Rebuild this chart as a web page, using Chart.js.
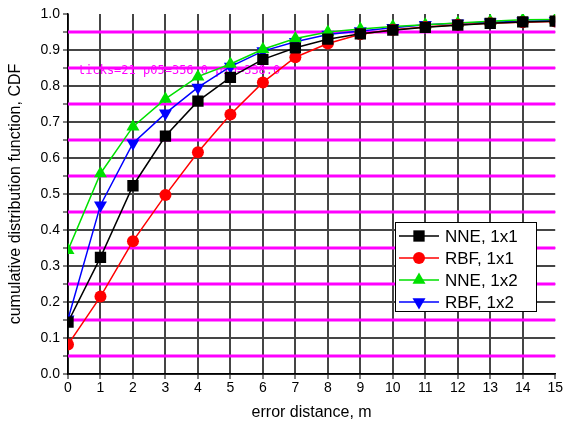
<!DOCTYPE html>
<html>
<head>
<meta charset="utf-8">
<script src="https://cdn.jsdelivr.net/npm/chart.js@4.4.0/dist/chart.umd.min.js"></script>
<style>
  html, body { margin: 0; padding: 0; background: #fff; }
  #wrap { width: 564px; height: 434px; }
</style>
</head>
<body>
<div id="wrap"><canvas id="cdf" width="564" height="434"></canvas></div>
<script>
// error distance in metres
const distances = [0, 1, 2, 3, 4, 5, 6, 7, 8, 9, 10, 11, 12, 13, 14, 15];

// CDF values
const nne1x1 = [0.144, 0.324, 0.523, 0.661, 0.758, 0.824, 0.874, 0.906, 0.930, 0.945, 0.955, 0.963, 0.969, 0.974, 0.978, 0.980];
const rbf1x1 = [0.082, 0.215, 0.369, 0.497, 0.616, 0.721, 0.810, 0.880, 0.918, 0.944, 0.956, 0.964, 0.970, 0.974, 0.977, 0.979];
const nne1x2 = [0.344, 0.557, 0.687, 0.764, 0.826, 0.861, 0.902, 0.932, 0.950, 0.958, 0.965, 0.970, 0.975, 0.980, 0.984, 0.985];
const rbf1x2 = [0.152, 0.469, 0.641, 0.724, 0.796, 0.854, 0.897, 0.923, 0.943, 0.953, 0.962, 0.970, 0.974, 0.977, 0.980, 0.981];

const seriesNames = ["NNE, 1x1", "RBF, 1x1", "NNE, 1x2", "RBF, 1x2"];
const xTicks = [0, 15, 1];      // min, max, step
const yTicks = [0, 1, 0.05];    // min, max, step (labels every 0.1)

const FONT = "'Liberation Sans', Arial, sans-serif";
const GRID = "#454545";

const toPoints = (vals) => vals.map((v, i) => ({ x: distances[i], y: v }));

const styles = [
  { color: "#000000", pointStyle: "rect", radius: 8, rotation: 0 },
  { color: "#ff0000", pointStyle: "circle", radius: 6, rotation: 0 },
  { color: "#00e000", pointStyle: "triangle", radius: 7.5, rotation: 0 },
  { color: "#0000ff", pointStyle: "triangle", radius: 7.5, rotation: 180 },
];
const allData = [nne1x1, rbf1x1, nne1x2, rbf1x2];

const datasets = allData.map((vals, i) => ({
  label: seriesNames[i],
  data: toPoints(vals),
  borderColor: styles[i].color,
  backgroundColor: styles[i].color,
  borderWidth: 1.5,
  pointStyle: styles[i].pointStyle,
  pointRadius: styles[i].radius,
  pointRotation: styles[i].rotation,
  pointBorderWidth: 0,
  tension: 0,
}));

// half-step horizontal grid lines (0.05, 0.15, ...) - drawn in a test colour
const minorGrid = {
  id: "minorGrid",
  beforeDatasetsDraw(chart) {
    const c = chart.ctx, a = chart.chartArea, y = chart.scales.y;
    c.save();
    for (let k = 1; k < 20; k += 2) {
      const py = Math.round(y.getPixelForValue(k * yTicks[2]));
      c.strokeStyle = "#ff00ff";
      c.lineWidth = 3;
      c.beginPath();
      c.moveTo(a.left, py);
      c.lineTo(a.right, py);
      c.stroke();
    }
    c.fillStyle = "#ff00ff";
    c.font = "12px monospace";
    c.fillText("ticks=" + y.ticks.length + " p05=" + y.getPixelForValue(0.05).toFixed(1) + " p10=" + y.getPixelForValue(0.1).toFixed(1), a.left + 10, a.top + 60);
    c.restore();
  },
};

// draws the boxed legend with line-marker-line samples
const boxLegend = {
  id: "boxLegend",
  afterDatasetsDraw(chart) {
    const c = chart.ctx;
    const x0 = 395, y0 = 222, w = 141, h = 89;
    c.save();
    c.fillStyle = "#fff";
    c.fillRect(x0, y0, w, h);
    c.strokeStyle = "#000";
    c.lineWidth = 1;
    c.strokeRect(x0 + 0.5, y0 + 0.5, w, h);
    c.font = "17px " + FONT;
    c.textBaseline = "middle";
    seriesNames.forEach((name, i) => {
      const y = y0 + 14 + i * 22;
      c.strokeStyle = styles[i].color;
      c.lineWidth = 1.5;
      c.beginPath();
      c.moveTo(x0 + 4, y);
      c.lineTo(x0 + 44, y);
      c.stroke();
      c.fillStyle = styles[i].color;
      Chart.helpers.drawPoint(c, {
        pointStyle: styles[i].pointStyle,
        radius: styles[i].radius,
        rotation: styles[i].rotation,
        borderWidth: 0,
      }, x0 + 24, y);
      c.fillStyle = "#000";
      c.fillText(name, x0 + 50, y + 1);
    });
    c.restore();
  },
};

new Chart(document.getElementById("cdf"), {
  type: "line",
  data: { datasets },
  options: {
    responsive: false,
    animation: false,
    layout: { padding: { top: 14, right: 8, left: 2, bottom: 0 } },
    plugins: { legend: { display: false }, tooltip: { enabled: false } },
    scales: {
      x: {
        type: "linear",
        min: xTicks[0],
        max: xTicks[1],
        afterFit: (s) => { s.height = 60; },
        ticks: { stepSize: xTicks[2], maxTicksLimit: 20, autoSkip: false, color: "#000", font: { family: FONT, size: 14 }, padding: 1, maxRotation: 0 },
        grid: {
          color: (ctx) => (ctx.tick && ctx.tick.value === xTicks[1] ? "rgba(0,0,0,0)" : GRID),
          lineWidth: 2,
          tickColor: "#000",
          tickLength: 5,
          tickWidth: 1,
        },
        border: { color: "#000", width: 1.5 },
        title: { display: true, text: "error distance, m", color: "#000", font: { family: FONT, size: 16 }, padding: { top: 4, bottom: 12 } },
      },
      y: {
        min: yTicks[0],
        max: yTicks[1],
        afterFit: (s) => { s.width = 66; },
        ticks: {
          stepSize: yTicks[2],
          maxTicksLimit: 30,
          autoSkip: false,
          color: "#000",
          font: { family: FONT, size: 14, lineHeight: 1 },
          padding: 3,
          callback: (v) => (Math.round(v * 100) % 10 === 0 ? v.toFixed(1) : " "),
        },
        grid: {
          color: (ctx) => (ctx.tick && Math.abs(ctx.tick.value - yTicks[1]) < 1e-6 ? "rgba(0,0,0,0)" : GRID),
          lineWidth: 2,
          tickColor: "#000",
          tickLength: 5,
          tickWidth: 1,
        },
        border: { color: "#000", width: 1.5 },
        title: { display: true, text: "cumulative distribution function, CDF", color: "#000", font: { family: FONT, size: 16 }, padding: { bottom: 2 } },
      },
    },
  },
  plugins: [minorGrid, boxLegend],
});
</script>
</body>
</html>
